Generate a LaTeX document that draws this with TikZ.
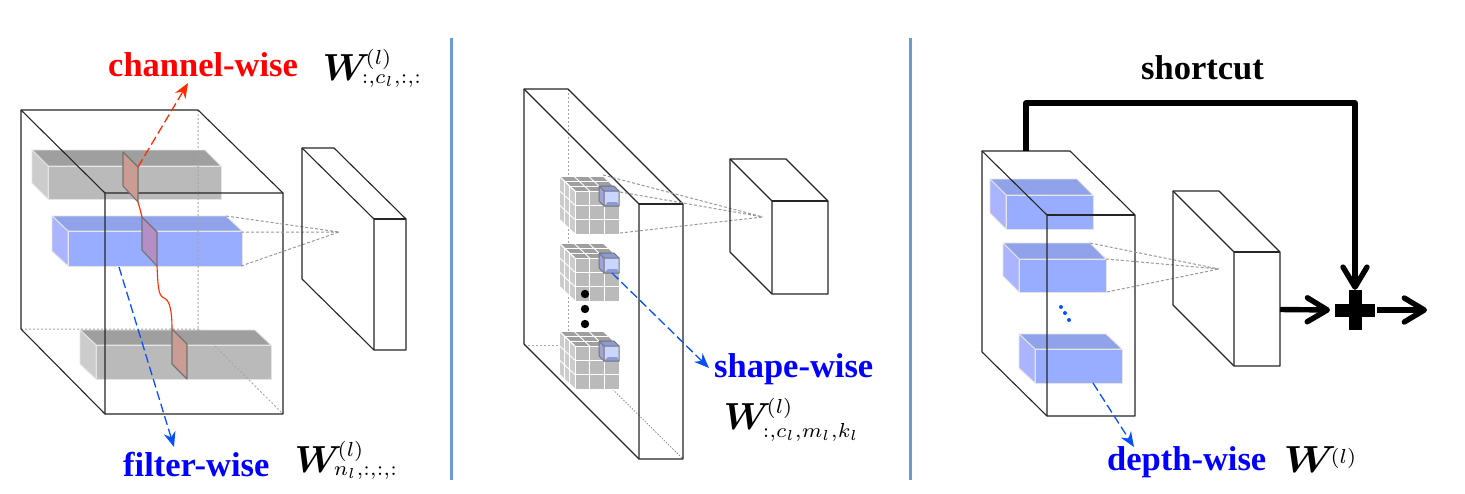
\documentclass[tikz,border=0pt]{standalone}
\usepackage{amsmath,amsbsy,graphicx}
\usepackage{fontspec}
\setmainfont{Liberation Serif}
\usetikzlibrary{arrows.meta}
\definecolor{gfront}{HTML}{BABABA}\definecolor{gtop}{HTML}{9F9F9F}\definecolor{gleft}{HTML}{CCCCCC}
\definecolor{bfront}{HTML}{98ADFF}\definecolor{btop}{HTML}{8FA2EA}\definecolor{bleft}{HTML}{ABB4FF}
\definecolor{slice}{HTML}{CB9C94}\definecolor{sliceb}{HTML}{B48FC6}
\definecolor{wblue}{HTML}{0A4FFF}\definecolor{wred}{HTML}{FF2A00}\definecolor{sep}{HTML}{6C9BD0}
\newcommand\bigW{\mathord{\scalebox{1.3}{$\boldsymbol{W}$}}\mkern-5mu}
\newcommand\wideW{\mathord{\scalebox{1.45}[1.3]{$\boldsymbol{W}$}}\mkern-6mu}
\newcommand\supl{{\,\raisebox{-1pt}{$\scriptstyle(l)$}}}
\tikzset{
  edge/.style={draw=black!85,line width=1.1pt,line join=round},
  hidden/.style={draw=black!35,line width=1pt,dash pattern=on 2pt off 2pt},
  fan/.style={draw=black!40,line width=1pt,dash pattern=on 3pt off 2pt},
  sepline/.style={draw=sep,line width=3pt},
  dasharrow/.style={line width=1.3pt,dash pattern=on 9pt off 4pt,-{Stealth[length=15pt,width=12pt]}},
  thickarrow/.style={line width=5.4pt,-{Straight Barb[length=20pt,width=24pt,round]}},
  label/.style={anchor=base west,inner sep=0,font=\fontsize{34.5}{36}\selectfont\bfseries},
  formula/.style={anchor=base west,inner sep=0,scale=2.9},
  faceedge/.style={draw=white!90!black,line width=.9pt,line join=round},
  sliceedge/.style={draw=black!55,line width=1.1pt,line join=round}
}
% cuboid: back-top-left x,y; width; depth x,y; height; colours front top left
\newcommand\cuboid[9]{%
  \path[faceedge,fill=#8] (#1,#2) -- ({#1+#3},#2) -- ({#1+#3+#4},{#2+#5}) -- ({#1+#4},{#2+#5}) -- cycle;
  \path[faceedge,fill=#9] (#1,#2) -- ({#1+#4},{#2+#5}) -- ({#1+#4},{#2+#5+#6}) -- (#1,{#2+#6}) -- cycle;
  \path[faceedge,fill=#7] ({#1+#4},{#2+#5}) rectangle ({#1+#3+#4},{#2+#5+#6});
}
% wire box with front face: back-top-left x,y; width; depth x,y; height
\newcommand\wirebox[6]{%
  \draw[edge,fill=none] (#1,{#2+#6}) -- (#1,#2) -- ({#1+#3},#2) -- ({#1+#3+#4},{#2+#5}) -- ({#1+#3+#4},{#2+#5+#6}) -- ({#1+#4},{#2+#5+#6}) -- cycle;
  \draw[edge] (#1,#2) -- ({#1+#4},{#2+#5}) -- ({#1+#4},{#2+#5+#6});
  \draw[edge] ({#1+#4},{#2+#5}) -- ({#1+#3+#4},{#2+#5});
}
\newcommand\rubik[2]{%
  \fill[gtop] (#1,#2) -- ({#1+44},#2) -- ({#1+60},{#2+15}) -- ({#1+16},{#2+15}) -- cycle;
  \fill[gleft] (#1,#2) -- ({#1+16},{#2+15}) -- ({#1+16},{#2+58}) -- (#1,{#2+43}) -- cycle;
  \fill[gfront] ({#1+16},{#2+15}) rectangle ({#1+60},{#2+58});
  \foreach \k in {0,1,2,3}{
    \draw[white,line width=.9pt] ({#1+16+44*\k/3},{#2+15}) -- ({#1+16+44*\k/3},{#2+58});
    \draw[white,line width=.9pt] ({#1+16},{#2+15+43*\k/3}) -- ({#1+60},{#2+15+43*\k/3});
    \draw[white,line width=.9pt] (#1,{#2+43*\k/3}) -- ({#1+16},{#2+15+43*\k/3});
    \draw[white,line width=.9pt] ({#1+16*\k/3},{#2+15*\k/3}) -- ({#1+16*\k/3},{#2+43+15*\k/3});
    \draw[white,line width=.9pt] ({#1+44*\k/3},#2) -- ({#1+16+44*\k/3},{#2+15});
    \draw[white,line width=.9pt] ({#1+16*\k/3},{#2+15*\k/3}) -- ({#1+44+16*\k/3},{#2+15*\k/3});
  }
  \fill[bleft!70!gray] ({#1+40},{#2+10}) -- ({#1+45},{#2+15}) -- ({#1+45},{#2+30}) -- ({#1+40},{#2+25}) -- cycle;
  \fill[btop!80!gray] ({#1+40},{#2+10}) -- ({#1+55},{#2+10}) -- ({#1+60},{#2+15}) -- ({#1+45},{#2+15}) -- cycle;
  \fill[bfront!50!white] ({#1+45},{#2+15}) rectangle ({#1+60},{#2+30});
  \fill[btop!80!gray] ({#1+45},{#2+30}) -- ({#1+49},{#2+26}) -- ({#1+58},{#2+26}) -- ({#1+60},{#2+30}) -- cycle;
  \draw[black!55,line width=1pt,line join=round] ({#1+40},{#2+10}) -- ({#1+55},{#2+10}) -- ({#1+60},{#2+15}) -- ({#1+60},{#2+30}) -- ({#1+45},{#2+30}) -- ({#1+40},{#2+25}) -- cycle;
  \draw[black!55,line width=1pt] ({#1+40},{#2+10}) -- ({#1+45},{#2+15}) -- ({#1+60},{#2+15}) ({#1+45},{#2+15}) -- ({#1+45},{#2+30});
}
\newcommand\sliver[5]{%
  \filldraw[sliceedge,fill=#5] (#1,#2) -- ({#1+15},{#2+15}) -- ({#1+15},{#2+15+#3}) -- (#1,{#2+#4}) -- cycle;
}
\begin{document}
\begin{tikzpicture}[x=1pt,y=-1pt]
\useasboundingbox (0,0) rectangle (1465,493);
\fill[white] (0,0) rectangle (1465,493);

% separators
\coordinate (s1a) at (451,38); \coordinate (s1b) at (451,480);
\coordinate (s2a) at (910,38); \coordinate (s2b) at (910,480);
\draw[sepline] (s1a) -- (s1b);
\draw[sepline] (s2a) -- (s2b);

% ---------- left panel
\cuboid{32}{150}{173}{16}{16}{33}{gfront}{gtop}{gleft}
\cuboid{52}{216}{174}{16}{15}{35}{bfront}{btop}{bleft}
\cuboid{80}{330}{175}{16}{15}{34}{gfront}{gtop}{gleft}
\draw[hidden] (198,110) -- (198,329) (21,329) -- (198,329) (198,329) -- (283,414);
\draw[edge] (21,329) -- (21,110) -- (198,110) -- (283,193) -- (283,414) -- (105,414) -- cycle;
\draw[edge] (21,110) -- (105,193) -- (105,414) (105,193) -- (283,193);
\draw[fan] (226,216) -- (339,232) (241,232) -- (339,232) (241,266) -- (339,232);
\wirebox{302}{148}{32}{72}{71}{131}
\sliver{123}{152}{35}{34}{slice}
\sliver{142}{217}{34}{33}{sliceb}
\sliver{172}{329}{35}{35}{slice}
\draw[wred,line width=1.1pt] (138,202) -- (140,209) -- (142,217)
  (157,266) .. controls (158,285) and (158,296) .. (164,298) .. controls (170,300) and (172,312) .. (172,329);
\coordinate (cwa) at (138,167); \coordinate (cwb) at (188,83);
\draw[dasharrow,wred] (cwa) -- (cwb);
\coordinate (fwa) at (119,267); \coordinate (fwb) at (174,447);
\draw[dasharrow,wblue] (fwa) -- (fwb);
\node[label,text=red] (channel) at (108,76) {channel-wise};
\node[label,text=blue] (filter) at (123,476) {filter-wise};
\node[formula] (wc) at (322,80) {$\bigW^{\supl}_{:,c_l,:,:}$};
\node[formula] (wf) at (294,472) {$\bigW^{\supl}_{n_l,:,:,:}$};

% ---------- middle panel
\draw[hidden] (568,89) -- (568,345) (524,345) -- (568,345);
\draw[black!45,line width=.8pt,dash pattern=on 1.5pt off 1.5pt] (568,345) -- (683,459);
\rubik{559}{176}
\rubik{559}{243}
\rubik{559}{331}
\wirebox{524}{89}{44}{115}{115}{255}
\foreach \n/\yy in {d1/294,d2/309,d3/324}{\fill (585,\yy) circle (4.2pt);}
\draw[fan] (603,175) -- (763,217) (620,192) -- (763,217) (620,233) -- (763,217);
\wirebox{730}{159}{56}{42}{42}{93}
\coordinate (swa) at (612,273); \coordinate (swb) at (709,368);
\draw[dasharrow,wblue] (swa) -- (swb);
\node[label,text=blue] (shape) at (714,377) {shape-wise};
\node[formula] (ws) at (723,429) {$\bigW^{\supl}_{:,c_l,m_l,k_l}$};

% ---------- right panel
\cuboid{990}{179}{87}{16}{16}{34}{bfront}{btop}{bleft}
\cuboid{1003}{243}{87}{16}{16}{33}{bfront}{btop}{bleft}
\cuboid{1019}{334}{87}{16}{15}{34}{bfront}{btop}{bleft}
\wirebox{982}{151}{88}{65}{64}{201}
\foreach \xx/\yy in {1061/307,1065/313,1069/320}{\fill[wblue] (\xx,\yy) circle (2pt);}
\draw[fan] (1090,243) -- (1219,269) (1106,259) -- (1219,269) (1107,292) -- (1219,269);
\wirebox{1173}{191}{46}{61}{61}{114}
\coordinate (dwa) at (1093,383); \coordinate (dwb) at (1134,447);
\draw[dasharrow,wblue] (dwa) -- (dwb);
\node[label,text=blue] (depth) at (1107,470) {depth-wise};
\node[formula] (wd) at (1283,472) {$\wideW^{\supl}$};
\node[label] (shortcut) at (1141,79) {shortcut};

% adder
\node[minimum size=40pt,inner sep=0] (plus) at (1355,310) {};
\fill (1348.5,290) rectangle (1361.5,330);
\fill (1335,303.5) rectangle (1375,316.5);
\coordinate (sa) at (1026,151); \coordinate (sc) at (1026,103); \coordinate (sd) at (1355,103);
\coordinate (p1) at (1280,309.5); \coordinate (p2) at (1330,310);
\coordinate (o1) at (1377,310); \coordinate (o2) at (1427,310);
\draw[thickarrow,line join=round] (sa) -- (sc) -- (sd) -- (plus.north);
\draw[thickarrow] (p1) -- (p2);
\draw[thickarrow] (o1) -- (o2);
\end{tikzpicture}
\end{document}
